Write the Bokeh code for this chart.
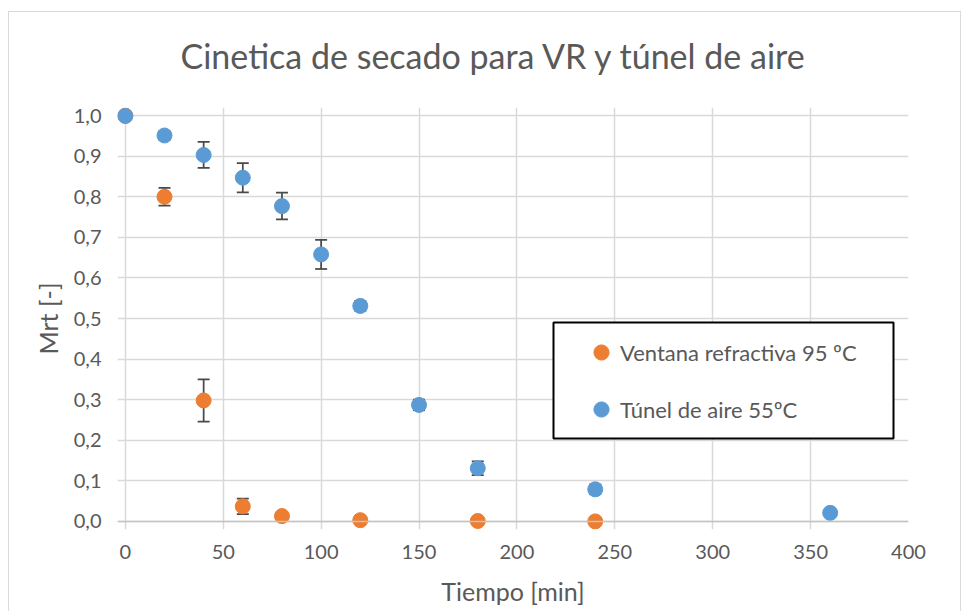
from bokeh.plotting import figure
from bokeh.models import (FixedTicker, Range1d, Legend, LegendItem, Span, Title,
                          ColumnDataSource, BoxAnnotation)
from bokeh.embed import file_html
from bokeh.resources import INLINE

# ---------------- data ----------------
title_text = "Cinetica de secado para VR y túnel de aire"
x_label = "Tiempo [min]"
y_label = "Mrt [-]"

vr_name = "Ventana refractiva 95 ºC"
vr_t = [0, 20, 40, 60, 80, 120, 180, 240]
vr_mr = [1.0, 0.800, 0.298, 0.037, 0.013, 0.003, 0.001, 0.0]
vr_err = [0.0, 0.022, 0.052, 0.019, 0.004, 0.002, 0.001, 0.001]

ta_name = "Túnel de aire 55ºC"
ta_t = [0, 20, 40, 60, 80, 100, 120, 150, 180, 240, 360]
ta_mr = [0.999, 0.951, 0.903, 0.847, 0.777, 0.658, 0.531, 0.287, 0.131, 0.079, 0.021]
ta_err = [0.0, 0.010, 0.032, 0.036, 0.033, 0.036, 0.012, 0.013, 0.017, 0.012, 0.004]

x_ticks = [0, 50, 100, 150, 200, 250, 300, 350, 400]
x_tick_labels = ["0", "50", "100", "150", "200", "250", "300", "350", "400"]
y_ticks = [0.0, 0.1, 0.2, 0.3, 0.4, 0.5, 0.6, 0.7, 0.8, 0.9, 1.0]
y_tick_labels = ["0,0", "0,1", "0,2", "0,3", "0,4", "0,5", "0,6", "0,7", "0,8", "0,9", "1,0"]

# ---------------- style ----------------
FONT = "Lato"
TXT = "#595959"
ORANGE = "#ED7D31"
BLUE = "#5B9BD5"
ERR = "#4a4a4a"
GRID = "#d9d9d9"

p = figure(width=953, height=600, output_backend="svg", toolbar_location=None,
           x_range=Range1d(-4, 400), y_range=Range1d(-0.02, 1.02),
           min_border_left=108, min_border_right=54, min_border_top=95, min_border_bottom=83)
p.styles = {"margin-left": "8px", "margin-top": "11px",
            "border-left": "1px solid #d9d9d9", "border-top": "1px solid #d9d9d9",
            "border-right": "1px solid #d9d9d9"}
p.outline_line_color = None
p.background_fill_color = "white"
p.border_fill_color = "white"

# spacer between frame and title (keeps the title higher without moving the frame)
p.add_layout(Title(text=" ", text_font_size="2px", standoff=28), "above")

p.title.text = title_text
p.title.align = "left"
p.title.offset = 63
p.title.text_font = FONT
p.title.text_font_size = "34px"
p.title.text_font_style = "normal"
p.title.text_color = TXT
p.title.standoff = 0

p.xaxis.ticker = FixedTicker(ticks=x_ticks)
p.xaxis.major_label_overrides = dict(zip(x_ticks, x_tick_labels))
p.yaxis.ticker = FixedTicker(ticks=y_ticks)
p.yaxis.major_label_overrides = dict(zip(y_ticks, y_tick_labels))
p.xgrid.ticker = FixedTicker(ticks=x_ticks)
p.ygrid.ticker = FixedTicker(ticks=y_ticks)

for ax in (p.xaxis[0], p.yaxis[0]):
    ax.axis_line_color = None
    ax.major_tick_line_color = None
    ax.minor_tick_line_color = None
    ax.major_label_text_font = FONT
    ax.major_label_text_font_size = "20px"
    ax.major_label_text_color = TXT
    ax.axis_label_text_font = FONT
    ax.axis_label_text_font_size = "25px"
    ax.axis_label_text_font_style = "normal"
    ax.axis_label_text_color = TXT

p.xaxis.axis_label = x_label
p.yaxis.axis_label = y_label
p.xaxis.major_label_standoff = 9
p.xaxis.axis_label_standoff = 14
p.yaxis.major_label_standoff = 10
p.yaxis.axis_label_standoff = 8

p.xgrid.grid_line_color = GRID
p.xgrid.grid_line_width = 1.5
p.ygrid.grid_line_color = GRID
p.ygrid.grid_line_width = 1.5

p.add_layout(Span(location=0, dimension="width", line_color="#c4c4c4", line_width=1.5))

# error bars
def err_src(t, mr, err):
    return ColumnDataSource(dict(t=t, lo=[m - e for m, e in zip(mr, err)],
                                 hi=[m + e for m, e in zip(mr, err)]))

for t, mr, err in ((vr_t, vr_mr, vr_err), (ta_t, ta_mr, ta_err)):
    s = err_src(t, mr, err)
    p.segment(x0="t", y0="lo", x1="t", y1="hi", source=s, line_color=ERR, line_width=1.75)
    p.scatter(x="t", y="lo", source=s, marker="dash", size=12, line_color=ERR, line_width=1.75)
    p.scatter(x="t", y="hi", source=s, marker="dash", size=12, line_color=ERR, line_width=1.75)

r_vr = p.scatter(vr_t, vr_mr, size=15, fill_color=ORANGE, line_color=ORANGE)
r_ta = p.scatter(ta_t, ta_mr, size=15, fill_color=BLUE, line_color=BLUE)

# legend frame (screen units, relative to the plot frame)
legend_box = BoxAnnotation(left=436, right=776, bottom=91, top=207,
                           left_units="screen", right_units="screen",
                           bottom_units="screen", top_units="screen",
                           fill_color="white", fill_alpha=1,
                           line_color="black", line_width=2, line_alpha=1)
p.add_layout(legend_box)

legend = Legend(items=[LegendItem(label=vr_name, renderers=[r_vr]),
                       LegendItem(label=ta_name, renderers=[r_ta])],
                location=(465, 101))
legend.border_line_color = None
legend.background_fill_alpha = 0
legend.label_text_font = FONT
legend.label_text_font_size = "22px"
legend.label_text_color = TXT
legend.glyph_height = 38
legend.glyph_width = 38
legend.padding = 0
legend.spacing = 19
legend.label_standoff = 0
legend.label_height = 38
legend.margin = 0
p.add_layout(legend)

open("out.html", "w").write(file_html(p, INLINE, title=title_text))
